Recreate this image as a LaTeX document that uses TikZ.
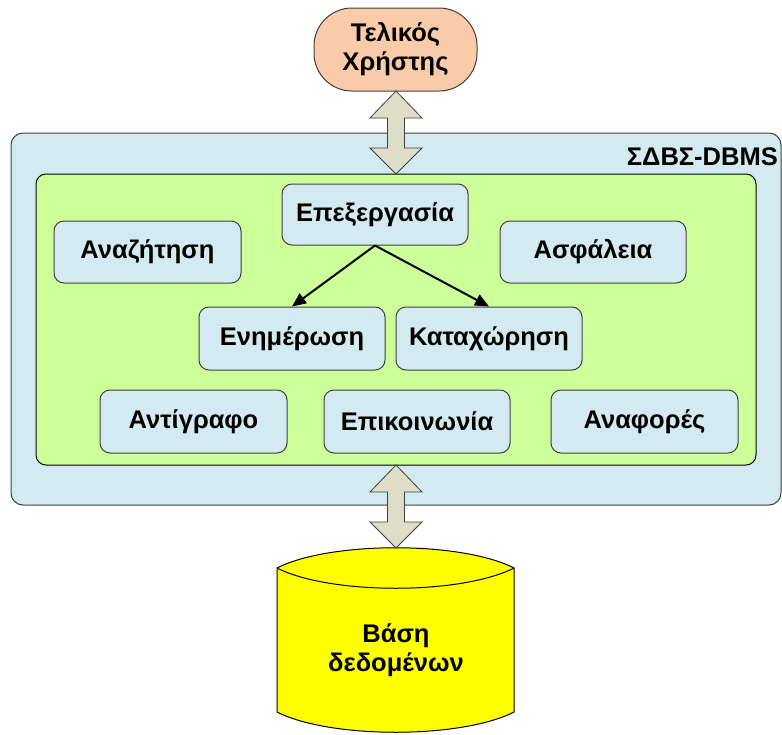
\documentclass[tikz,border=0pt]{standalone}
\usepackage{fontspec}
\setmainfont{Liberation Sans}
\usetikzlibrary{arrows.meta,calc}
\definecolor{boxblue}{RGB}{210,234,240}
\definecolor{boxgreen}{RGB}{204,255,153}
\definecolor{peach}{RGB}{250,203,168}
\definecolor{arrowgray}{RGB}{221,221,200}
\definecolor{edgegray}{RGB}{64,64,64}
\definecolor{dbyellow}{RGB}{255,255,0}
\newcommand{\bigfont}{\fontsize{25.5}{29}\selectfont\bfseries}
\tikzset{
  modbox/.style={draw=edgegray, line width=1pt, fill=boxblue, rounded corners=10pt,
    minimum width=186pt, minimum height=62pt, font=\bigfont, inner sep=0pt},
  flowarrow/.style={line width=2pt, -{Triangle[length=14pt,width=12pt]}},
  bigarrow/.style={draw=edgegray, line width=0.8pt, fill=arrowgray},
}
\newcommand{\dblarrow}[3]{%
  \filldraw[bigarrow] (#1,#2) -- ++(26,27) -- ++(-17.5,0) -- (#1+8.5,#3-26) -- ++(17.5,0)
    -- (#1,#3) -- ++(-26,-26) -- ++(17.5,0) -- (#1-8.5,#2+27) -- ++(-17.5,0) -- cycle;}
\begin{document}
\begin{tikzpicture}[x=1pt,y=-1pt]
\useasboundingbox (0,0) rectangle (782,734);
% outer DBMS box
\draw[draw=edgegray, line width=1pt, fill=boxblue, rounded corners=12pt] (11,133) rectangle (781,505);
\node[anchor=east, font=\bigfont, inner sep=0pt] (dbmslabel) at (778,157) {ΣΔΒΣ-DBMS};
% inner green box
\draw[draw=black, line width=1pt, fill=boxgreen, rounded corners=10pt] (36,174) rectangle (756,465);
% modules
\node[modbox, minimum width=187pt] (anaz) at (147.5,252) {Αναζήτηση};
\node[modbox, minimum height=61pt] (epex) at (375,214.5) {Επεξεργασία};
\node[modbox] (asfal) at (593,252) {Ασφάλεια};
\node[modbox, minimum height=63pt] (enim) at (292,338.5) {Ενημέρωση};
\node[modbox, minimum height=63pt] (katax) at (489,338.5) {Καταχώρηση};
\node[modbox, minimum height=63pt, minimum width=187pt] (antig) at (193.5,421.5) {Αντίγραφο};
\node[modbox, minimum height=63pt] (epik) at (417,421.5) {Επικοινωνία};
\node[modbox, minimum height=63pt, minimum width=187pt] (anaf) at (644.5,421.5) {Αναφορές};
\draw[flowarrow] (epex.south) -- (enim.north);
\draw[flowarrow] (epex.south) -- (katax.north);
% end user
\node[draw=edgegray, line width=1pt, fill=peach, rounded corners=38pt, minimum width=163pt,
  minimum height=83pt, align=center, font=\bigfont, inner sep=0pt]
  (user) at (395.5,49.5) {Τελικός\\Χρήστης};
% database cylinder
\filldraw[draw=black, line width=1pt, fill=dbyellow]
  (277,568) .. controls (330,541) and (461,541) .. (514,568) -- (514,712)
  .. controls (461,739) and (330,739) .. (277,712) -- cycle;
\draw[black, line width=1pt] (277,568) .. controls (330,595) and (461,595) .. (514,568);
\node[align=center, font=\bigfont, inner sep=0pt] (db) at (396,650) {Βάση\\δεδομένων};
% double arrows
\dblarrow{396}{91}{174}
\dblarrow{396}{465}{548}
\end{tikzpicture}
\end{document}
